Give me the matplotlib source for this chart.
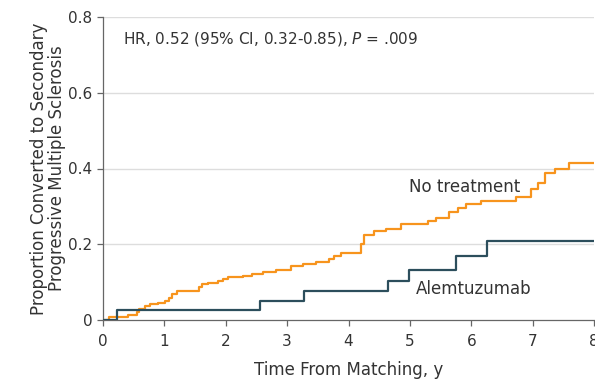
import matplotlib
matplotlib.use("Agg")
import matplotlib.pyplot as plt
from matplotlib import font_manager

# ---- data ----
no_tx_time = [0, 0.10, 0.40, 0.55, 0.58, 0.68, 0.77, 0.90, 1.01, 1.07, 1.12, 1.20,
              1.56, 1.62, 1.71, 1.88, 1.96, 2.04, 2.28, 2.42, 2.61, 2.82, 3.07,
              3.26, 3.47, 3.68, 3.77, 3.88, 4.20, 4.26, 4.42, 4.61, 4.86, 5.30,
              5.43, 5.64, 5.79, 5.92, 6.16, 6.73, 6.97, 7.08, 7.20, 7.37, 7.60, 8.0]
no_tx_prop = [0, 0.007, 0.013, 0.020, 0.030, 0.036, 0.041, 0.046, 0.051, 0.058, 0.068, 0.077,
              0.087, 0.094, 0.099, 0.104, 0.108, 0.113, 0.117, 0.121, 0.127, 0.132, 0.142,
              0.148, 0.154, 0.160, 0.168, 0.178, 0.200, 0.225, 0.236, 0.241, 0.254, 0.262,
              0.268, 0.285, 0.297, 0.305, 0.313, 0.325, 0.345, 0.362, 0.387, 0.400, 0.414, 0.414]

alem_time = [0, 0.22, 2.56, 3.28, 4.65, 4.99, 5.75, 6.25, 8.0]
alem_prop = [0, 0.026, 0.051, 0.077, 0.103, 0.132, 0.170, 0.209, 0.209]

x_ticks = [0, 1, 2, 3, 4, 5, 6, 7, 8]
y_ticks = [0, 0.2, 0.4, 0.6, 0.8]
y_tick_labels = ["0", "0.2", "0.4", "0.6", "0.8"]

# ---- fonts ----
avail = {f.name for f in font_manager.fontManager.ttflist}
fam = "Liberation Sans Narrow" if "Liberation Sans Narrow" in avail else "DejaVu Sans"
plt.rcParams["font.family"] = [fam, "DejaVu Sans"]

txt = "#333333"
orange = "#F7941D"
dark = "#2C4E5C"

fig = plt.figure(figsize=(5.95, 3.81), dpi=100)
ax = fig.add_axes([103 / 595, 61 / 381, 491 / 595, 303 / 381])

ax.plot(no_tx_time, no_tx_prop, drawstyle="steps-post", color=orange, lw=1.6, zorder=3)
ax.plot(alem_time, alem_prop, drawstyle="steps-post", color=dark, lw=1.6, zorder=3)

ax.set_xlim(0, 8)
ax.set_ylim(0, 0.8)
ax.set_xticks(x_ticks)
ax.set_yticks(y_ticks)
ax.set_yticklabels(y_tick_labels)

for y in y_ticks[1:]:
    ax.axhline(y, color="#DDDDDD", lw=1, zorder=1)

for s in ["top", "right"]:
    ax.spines[s].set_visible(False)
for s in ["left", "bottom"]:
    ax.spines[s].set_color("#666666")
    ax.spines[s].set_linewidth(0.9)

ax.tick_params(axis="both", colors="#666666", labelcolor=txt, labelsize=11,
               length=4, width=0.9, direction="out")
ax.tick_params(axis="x", pad=6)

ax.set_xlabel("Time From Matching, y", fontsize=12, color=txt, labelpad=9)
ax.set_ylabel("Proportion Converted to Secondary\nProgressive Multiple Sclerosis",
              fontsize=12, color=txt, labelpad=2, linespacing=1.0)

ax.text(0.33, 0.742, "HR, 0.52 (95% CI, 0.32-0.85), $\\it{P}$ = .009",
        fontsize=11, color=txt, va="center", ha="left")
ax.text(4.99, 0.35, "No treatment", fontsize=12, color=txt, va="center", ha="left")
ax.text(5.1, 0.082, "Alemtuzumab", fontsize=12, color=txt, va="center", ha="left")

for lab in ax.get_xticklabels():
    lab.set_clip_on(False)

fig.savefig("out.png", dpi=100)
